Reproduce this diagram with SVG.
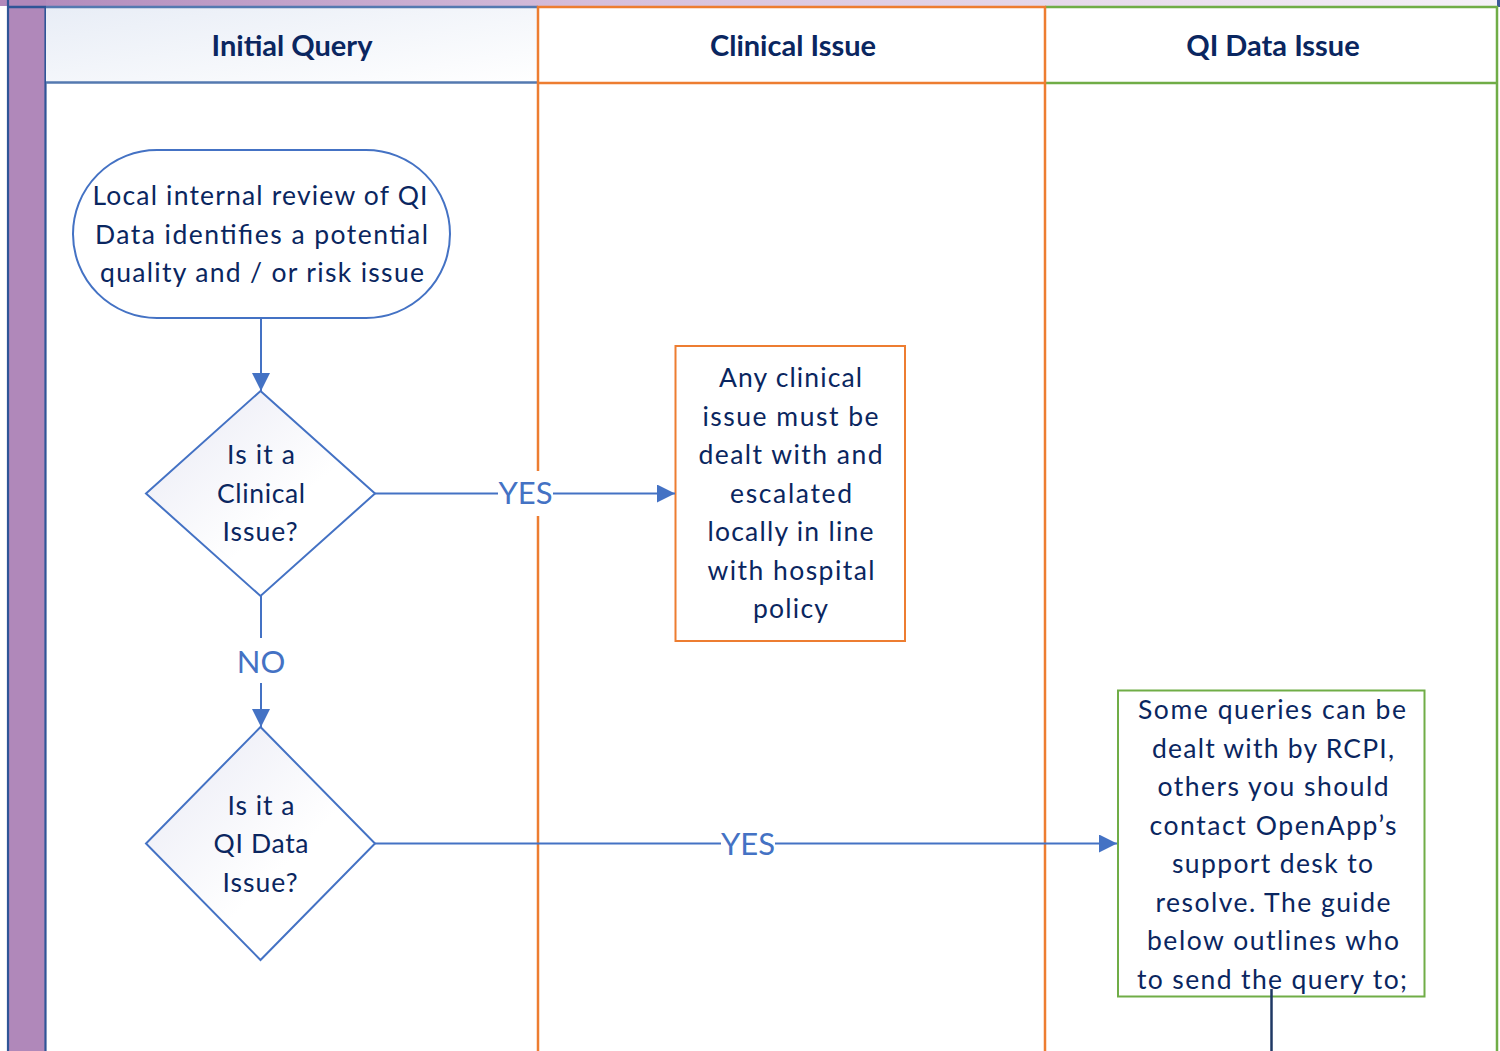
<svg xmlns="http://www.w3.org/2000/svg" width="1500" height="1051" viewBox="0 0 1500 1051">
<defs>
  <linearGradient id="topband" x1="0" y1="0" x2="1" y2="0">
    <stop offset="0" stop-color="#B088BA"/>
    <stop offset="0.4" stop-color="#D6BFDC"/>
    <stop offset="1" stop-color="#F5F2F8"/>
  </linearGradient>
  <linearGradient id="hdr1" x1="0" y1="0" x2="1" y2="1">
    <stop offset="0" stop-color="#E8EDF6"/>
    <stop offset="1" stop-color="#FFFFFF"/>
  </linearGradient>
  <linearGradient id="dia" x1="0" y1="0" x2="1" y2="1">
    <stop offset="0" stop-color="#E8E9F4"/>
    <stop offset="0.6" stop-color="#FFFFFF"/>
  </linearGradient>
  <marker id="arr" markerUnits="userSpaceOnUse" markerWidth="18" markerHeight="18" refX="18" refY="9" orient="auto">
    <path d="M0,0 L18,9 L0,18 z" fill="#4472C4"/>
  </marker>
</defs>
<style>
  .t { font-family: Lato, "Open Sans", "Liberation Sans", sans-serif; font-size: 26.5px; fill: #0A2660; text-anchor: middle; }
  .h { font-family: Lato, "Open Sans", "Liberation Sans", sans-serif; font-size: 29px; font-weight: 700; fill: #0A2660; text-anchor: middle; }
  .lbl { font-family: Lato, "Open Sans", "Liberation Sans", sans-serif; font-size: 31px; fill: #4472C4; text-anchor: middle; }
  .conn { stroke: #4472C4; stroke-width: 2; fill: none; }
  .shape { stroke: #4472C4; stroke-width: 2; }
</style>

<g id="pool">
  <rect x="0" y="0" width="1500" height="6" fill="url(#topband)"/>
  <rect x="1497" y="0" width="3" height="7" fill="#3B5A9A"/>
  <rect x="8" y="0" width="38" height="1051" fill="#B088BA"/>
  <line x1="8" y1="0" x2="8" y2="1051" stroke="#2F5597" stroke-width="2.2"/>
  <line x1="45.5" y1="6" x2="45.5" y2="1051" stroke="#2F5597" stroke-width="2.2"/>
  <line x1="8" y1="7" x2="46" y2="7" stroke="#2F5597" stroke-width="2.4"/>
</g>

<g id="lane-qi-data">
  <rect x="1045" y="7" width="452" height="76" fill="#FFFFFF"/>
  <path d="M1045,7 H1497 V1051 M1045,83 H1497" fill="none" stroke="#70AD47" stroke-width="2.5"/>
  <text class="h" x="1273" y="56">QI Data Issue</text>
</g>

<g id="lane-initial">
  <rect x="46" y="7" width="492" height="76" fill="url(#hdr1)"/>
  <path d="M46,7 H538 M46,82.5 H538" fill="none" stroke="#5479B0" stroke-width="2.5"/>
  <text class="h" x="292" y="56">Initial Query</text>
</g>

<g id="lane-clinical">
  <rect x="538" y="7" width="507" height="76" fill="#FFFFFF"/>
  <path d="M538,1051 V7 H1045 V1051 M538,83 H1045" fill="none" stroke="#ED7D31" stroke-width="2.5"/>
  <text class="h" x="793" y="56">Clinical Issue</text>
</g>

<g id="node-start">
  <rect class="shape" x="73" y="150" width="377" height="168" rx="84" ry="84" fill="#FFFFFF"/>
  <text class="t" x="260" y="205" textLength="335" lengthAdjust="spacing">Local internal review of QI</text>
  <text class="t" x="261.5" y="243.5" textLength="333" lengthAdjust="spacing">Data identifies a potential</text>
  <text class="t" x="262" y="282" textLength="324" lengthAdjust="spacing">quality and / or risk issue</text>
</g>

<g id="node-clinical-decision">
  <polygon class="shape" points="260.5,391 375,493.5 260.5,596 146,493.5" fill="url(#dia)"/>
  <text class="t" x="261" y="464" textLength="68" lengthAdjust="spacing">Is it a</text>
  <text class="t" x="261" y="503" textLength="88" lengthAdjust="spacing">Clinical</text>
  <text class="t" x="260" y="541" textLength="75" lengthAdjust="spacing">Issue?</text>
</g>

<g id="node-clinical-action">
  <rect x="675.5" y="346" width="229.5" height="295" fill="#FFFFFF" stroke="#ED7D31" stroke-width="2"/>
  <text class="t" x="790.5" y="387" textLength="143" lengthAdjust="spacing">Any clinical</text>
  <text class="t" x="790.5" y="425.5" textLength="176" lengthAdjust="spacing">issue must be</text>
  <text class="t" x="790.5" y="464" textLength="184" lengthAdjust="spacing">dealt with and</text>
  <text class="t" x="791" y="502.5" textLength="122" lengthAdjust="spacing">escalated</text>
  <text class="t" x="790.5" y="541" textLength="166" lengthAdjust="spacing">locally in line</text>
  <text class="t" x="791" y="579.5" textLength="167" lengthAdjust="spacing">with hospital</text>
  <text class="t" x="790.5" y="618" textLength="75" lengthAdjust="spacing">policy</text>
</g>

<g id="node-qi-decision">
  <polygon class="shape" points="260.5,727 375,843.5 260.5,960 146,843.5" fill="url(#dia)"/>
  <text class="t" x="261" y="815" textLength="67" lengthAdjust="spacing">Is it a</text>
  <text class="t" x="261" y="853" textLength="95" lengthAdjust="spacing">QI Data</text>
  <text class="t" x="260" y="892" textLength="75" lengthAdjust="spacing">Issue?</text>
</g>

<g id="node-qi-action">
  <rect x="1118" y="690.5" width="306.5" height="306" fill="#FFFFFF" stroke="#70AD47" stroke-width="2"/>
  <text class="t" x="1272" y="719" textLength="268" lengthAdjust="spacing">Some queries can be</text>
  <text class="t" x="1273" y="757.5" textLength="242" lengthAdjust="spacing">dealt with by RCPI,</text>
  <text class="t" x="1273" y="796" textLength="231" lengthAdjust="spacing">others you should</text>
  <text class="t" x="1273" y="834.5" textLength="247" lengthAdjust="spacing">contact OpenApp’s</text>
  <text class="t" x="1272.5" y="873" textLength="201" lengthAdjust="spacing">support desk to</text>
  <text class="t" x="1273" y="911.5" textLength="235" lengthAdjust="spacing">resolve. The guide</text>
  <text class="t" x="1273" y="950" textLength="252" lengthAdjust="spacing">below outlines who</text>
  <text class="t" x="1272" y="988.5" textLength="270" lengthAdjust="spacing">to send the query to;</text>
</g>

<g id="connectors">
  <line class="conn" x1="261" y1="318" x2="261" y2="391" marker-end="url(#arr)"/>
  <line class="conn" x1="375" y1="493.5" x2="675" y2="493.5" marker-end="url(#arr)"/>
  <rect x="498" y="471" width="55" height="45" fill="#FFFFFF"/>
  <text class="lbl" x="525.5" y="504">YES</text>
  <line class="conn" x1="261" y1="596" x2="261" y2="727" marker-end="url(#arr)"/>
  <rect x="239" y="638" width="44" height="45" fill="#FFFFFF"/>
  <text class="lbl" x="261" y="673">NO</text>
  <line class="conn" x1="375" y1="843.5" x2="1117" y2="843.5" marker-end="url(#arr)"/>
  <rect x="721" y="822" width="54" height="44" fill="#FFFFFF"/>
  <text class="lbl" x="748" y="855">YES</text>
  <line x1="1271.5" y1="989" x2="1271.5" y2="1051" stroke="#1F3864" stroke-width="2.5"/>
</g>
</svg>
